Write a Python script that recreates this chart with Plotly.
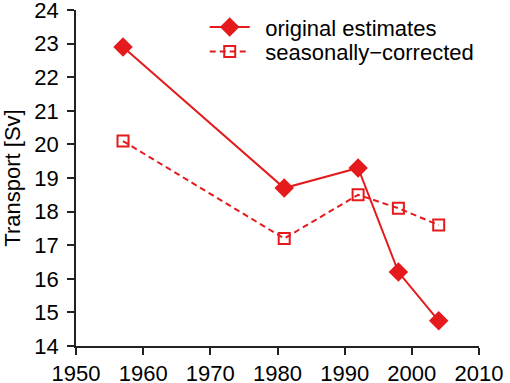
import plotly.graph_objects as go

years = [1957, 1981, 1992, 1998, 2004]
original = [22.9, 18.7, 19.3, 16.2, 14.75]
seasonal = [20.1, 17.2, 18.5, 18.1, 17.6]
xticks = [1950, 1960, 1970, 1980, 1990, 2000, 2010]

red = "#e41a1c"
font = "Liberation Sans, Arial, sans-serif"
axcol = "#222222"
sp = "\u00a0\u2009"

fig = go.Figure()
fig.add_trace(go.Scatter(
    x=years, y=original, mode="lines+markers", name=sp + "original estimates",
    line=dict(color=red, width=2),
    marker=dict(symbol="diamond", size=15, color=red),
    legend="legend",
))
fig.add_trace(go.Scatter(
    x=years, y=seasonal, mode="lines+markers", name=sp + "seasonally\u2212corrected",
    line=dict(color=red, width=2, dash="6px,4px"),
    marker=dict(symbol="square-open", size=11, color=red, line=dict(width=2)),
    legend="legend2",
))

leg = dict(xanchor="left", yanchor="middle", bgcolor="rgba(0,0,0,0)",
           font=dict(size=22), itemwidth=40)
fig.update_layout(
    width=510, height=383,
    margin=dict(l=75.5, r=31, t=10, b=37, autoexpand=False),
    paper_bgcolor="white", plot_bgcolor="white",
    font=dict(family=font, size=22, color="black"),
    showlegend=True,
    legend=dict(x=0.3194, y=0.9485, **leg),
    legend2=dict(x=0.3194, y=0.8759, **leg),
)
fig.update_xaxes(range=[1950, 2010], tickvals=xticks, automargin=False,
                 showgrid=False, zeroline=False, showline=True, linecolor=axcol, linewidth=1.5,
                 ticks="outside", ticklen=7, tickwidth=1.5, tickcolor=axcol,
                 ticklabelstandoff=0, ticklabeloverflow="allow")
fig.update_yaxes(range=[14, 24], dtick=1, automargin=False,
                 title=dict(text="Transport [Sv]", font=dict(size=22)),
                 showgrid=False, zeroline=False, showline=True, linecolor=axcol, linewidth=1.5,
                 ticks="outside", ticklen=7, tickwidth=1.5, tickcolor=axcol,
                 ticklabelstandoff=4, ticklabeloverflow="allow")

fig.write_html("out.html", config={"displayModeBar": False},
               post_script="document.body.style.margin='0';")
